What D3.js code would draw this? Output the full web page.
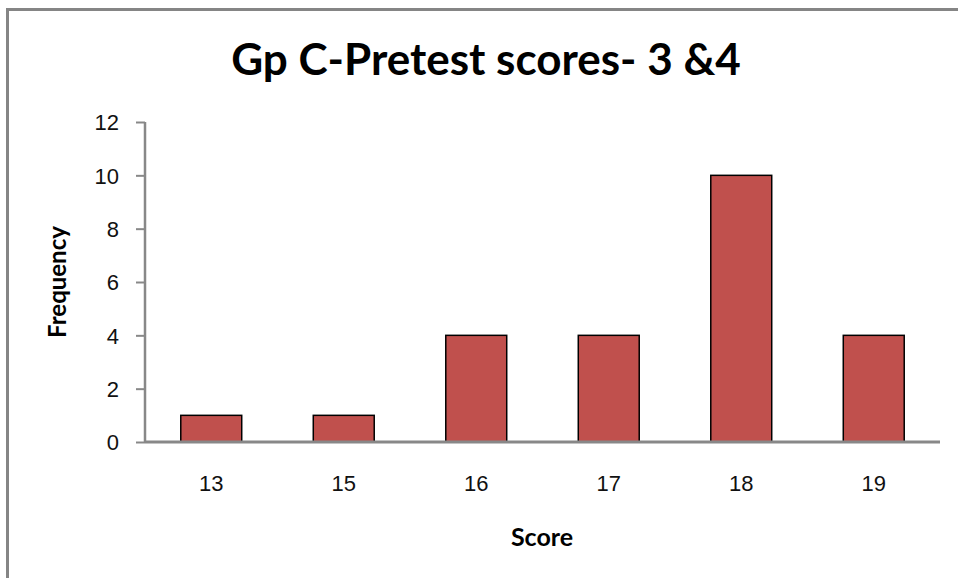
<!DOCTYPE html>
<html><head><meta charset="utf-8">
<script src="https://cdn.jsdelivr.net/npm/d3@7"></script>
<style>body{margin:0;background:#fff}svg{display:block}</style>
</head><body>
<svg id="c" width="958" height="578"></svg>
<script>
const categories = ["13","15","16","17","18","19"];
const frequencies = [1,1,4,4,10,4];
const yTicks = [0,2,4,6,8,10,12];
const titleText = "Gp C-Pretest scores- 3 &4";
const xLabel = "Score";
const yLabel = "Frequency";

const svg = d3.select("#c");
// frame
svg.append("path").attr("d","M7.5,578 V9.5 H958").attr("fill","none").attr("stroke","#858585").attr("stroke-width",3);

const x = d3.scaleBand().domain(categories).range([145,940]).paddingInner(0.54).paddingOuter(0.27);
const y = d3.scaleLinear().domain([0,12]).range([442,122]);

// y axis
const ya = svg.append("g").attr("transform","translate(145,0)")
  .call(d3.axisLeft(y).tickValues(yTicks).tickSize(9).tickPadding(17));
ya.select(".domain").attr("stroke","#888").attr("stroke-width",2.5).attr("d","M0,122V442");
ya.selectAll(".tick line").attr("stroke","#888").attr("stroke-width",2);
ya.selectAll(".tick text").attr("font-family","'Liberation Sans', Arial, sans-serif").attr("font-size",22).attr("fill","#111").attr("dy","0.36em");

// bars
svg.selectAll("rect.bar").data(categories).join("rect").attr("class","bar")
  .attr("x",d=>x(d)).attr("width",x.bandwidth())
  .attr("y",(d,i)=>y(frequencies[i])).attr("height",(d,i)=>y(0)-y(frequencies[i]))
  .attr("fill","#C0504D").attr("stroke","#000").attr("stroke-width",1.5);

// x axis
const xa = svg.append("g").attr("transform","translate(0,442)")
  .call(d3.axisBottom(x).tickSize(0).tickPadding(33));
xa.select(".domain").attr("stroke","#888").attr("stroke-width",3).attr("d","M145,0H940");
xa.selectAll(".tick text").attr("font-family","'Liberation Sans', Arial, sans-serif").attr("font-size",22).attr("fill","#111");

// title
svg.append("text").attr("x",486).attr("y",75).attr("text-anchor","middle")
  .attr("font-family","Lato, 'Open Sans', sans-serif").attr("font-weight","bold").attr("font-size",44)
  .attr("fill","#000").text(titleText);
svg.append("text").attr("x",542).attr("y",546).attr("text-anchor","middle")
  .attr("font-family","Lato, 'Open Sans', sans-serif").attr("font-weight","bold").attr("font-size",25)
  .attr("fill","#000").text(xLabel);
svg.append("text").attr("transform","translate(66,282) rotate(-90)").attr("text-anchor","middle")
  .attr("font-family","Lato, 'Open Sans', sans-serif").attr("font-weight","bold").attr("font-size",24)
  .attr("fill","#000").text(yLabel);
</script>
</body></html>
